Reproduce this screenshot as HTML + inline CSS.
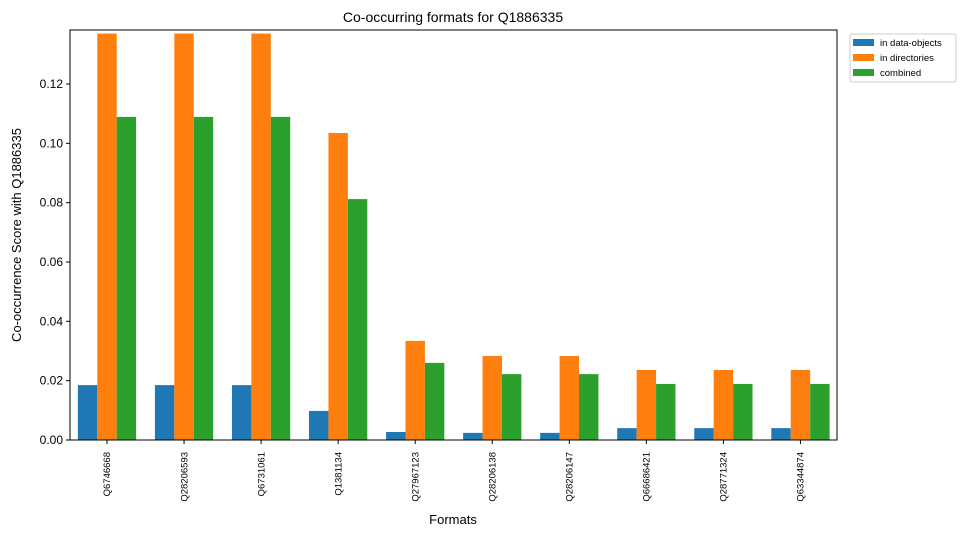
<!DOCTYPE html>
<html><head><meta charset="utf-8"><style>
body{margin:0;background:#fff;}
svg{display:block;font-family:"Liberation Sans","DejaVu Sans",sans-serif;}
</style></head><body>
<svg id="chart" width="966" height="536">
<text x="453" y="22" font-size="14" text-anchor="middle">Co-occurring formats for Q1886335</text>
<text x="453" y="524" font-size="13" text-anchor="middle">Formats</text>
<text transform="translate(21,235) rotate(-90)" font-size="13" text-anchor="middle">Co-occurrence Score with Q1886335</text>
<g id="bars"></g><g id="axes"></g>
<g>
<rect x="850" y="34" width="106" height="48" fill="#fff" stroke="#ccc" rx="2"/>
<rect x="853" y="39" width="21" height="7" fill="#1f77b4"/>
<text x="880" y="46" font-size="9.5">in data-objects</text>
<rect x="853" y="54" width="21" height="7" fill="#ff7f0e"/>
<text x="880" y="61" font-size="9.5">in directories</text>
<rect x="853" y="69" width="21" height="7" fill="#2ca02c"/>
<text x="880" y="76" font-size="9.5">combined</text>
</g>
</svg>
<script>
const categories=["Q6746668","Q28206593","Q6731061","Q1381134","Q27967123","Q28206138","Q28206147","Q66686421","Q28771324","Q63344874"];
const dataObjects=[0.0185,0.0185,0.0185,0.0098,0.0027,0.0024,0.0024,0.004,0.004,0.004];
const directories=[0.137,0.137,0.137,0.1035,0.0334,0.0283,0.0283,0.0236,0.0236,0.0236];
const combined=[0.1089,0.1089,0.1089,0.0812,0.026,0.0222,0.0222,0.0189,0.0189,0.0189];
const yTicks=[0,0.02,0.04,0.06,0.08,0.10,0.12];
const yTickLabels=["0.00","0.02","0.04","0.06","0.08","0.10","0.12"];
const L=70,R=837,T=30,B=440,YMAX=0.1382;
const NS="http://www.w3.org/2000/svg";
const STEP=77.05,X0=107;
const xs=i=>X0+i*STEP;
const ys=v=>B-v/YMAX*(B-T);
const bw=STEP*0.252;
const bars=document.getElementById('bars'),axes=document.getElementById('axes');
function mk(tag,attrs,parent){const e=document.createElementNS(NS,tag);for(const k in attrs)e.setAttribute(k,attrs[k]);parent.appendChild(e);return e;}
const series=[[dataObjects,"#1f77b4","data-objects"],[directories,"#ff7f0e","directories"],[combined,"#2ca02c","combined"]];
categories.forEach((c,i)=>{
  series.forEach((s,j)=>{
    const v=s[0][i];
    const r=mk('rect',{x:xs(i)-1.5*bw+j*bw,y:ys(v),width:bw,height:B-ys(v),fill:s[1]},bars);
    
    
  });
  const x=xs(i);
  mk('line',{x1:x,x2:x,y1:B,y2:B+4,stroke:'#000'},axes);
  const t=mk('text',{transform:`translate(${x+3.2},452) rotate(-90)`,'font-size':'9.5','text-anchor':'end'},axes);
  t.textContent=c;
  
  
});
yTicks.forEach((v,i)=>{
  const y=ys(v);
  mk('line',{x1:L-4,x2:L,y1:y,y2:y,stroke:'#000'},axes);
  const t=mk('text',{x:L-7,y:y+4,'font-size':'12','text-anchor':'end'},axes);
  t.textContent=yTickLabels[i];
  
  
});
const f=mk('rect',{x:L,y:T,width:R-L,height:B-T,fill:'none',stroke:'#000','stroke-width':1},axes);


</script>
</body></html>
